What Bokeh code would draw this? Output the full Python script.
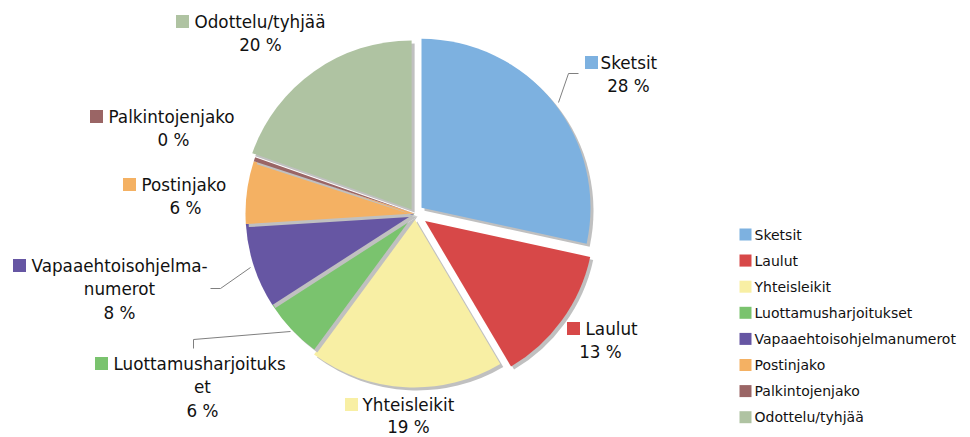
import math
from bokeh.plotting import figure
from bokeh.models import Range1d, ColumnDataSource
from bokeh.core.properties import value
from bokeh.embed import file_html
from bokeh.resources import INLINE

# ---------------- data ----------------
categories = ["Sketsit", "Laulut", "Yhteisleikit", "Luottamusharjoitukset",
              "Vapaaehtoisohjelmanumerot", "Postinjako", "Palkintojenjako",
              "Odottelu/tyhjää"]
shares = [28.4, 13.1, 18.6, 5.8, 8.1, 6.0, 0.4, 19.6]
label_lines = [["Sketsit"], ["Laulut"], ["Yhteisleikit"],
               ["Luottamusharjoituks", "et"], ["Vapaaehtoisohjelma-", "numerot"],
               ["Postinjako"], ["Palkintojenjako"], ["Odottelu/tyhjää"]]

# ---------------- style ----------------
colors = ["#7db1e0", "#d74848", "#f8efa4", "#7ac36e",
          "#6656a3", "#f4b163", "#9a6565", "#afc3a2"]
SHADOW = "#c0c0c0"
FONT = value("DejaVu Sans")
TXT = "#111111"

W, H = 970, 437
def X(px):
    return px
def Y(py):
    return H - py

CX, CY = 414, 213          # pie centre (screen px)
R = 169
explode = [9, 13, 5, 0, 0, 0, 0, 5]
SH = 3                      # shadow offset

# label layout: (square cx, first-line cy, text left, block centre x, line pitch)
label_pos = [(591, 62, 600, 628, 23.5), (573, 328, 585, 600, 23.5),
             (351, 404, 362, 408, 22.0), (101, 363, 113, 202, 23.5),
             (19, 265, 31, 119, 23.5), (129, 184, 141, 185, 23.5),
             (96, 116, 108, 173, 23.5), (182, 21, 194, 260, 23.5)]
leaders = [[(558, 102), (568, 73), (578, 73)],
           [(290, 331), (193, 339), (193, 348)],
           [(250, 267), (220, 288), (210, 288)]]

p = figure(width=W, height=H, output_backend="svg", toolbar_location=None,
           x_range=Range1d(0, W), y_range=Range1d(0, H), min_border=0)
p.axis.visible = False
p.grid.visible = False
p.outline_line_color = None
p.background_fill_color = "white"
p.border_fill_color = "white"

# wedge table (shadow then slice, per category)
total = sum(shares)
rows = dict(x=[], y=[], start=[], end=[], color=[])
cum = 0.0
for i, v in enumerate(shares):
    a0 = cum / total * 2 * math.pi
    cum += v
    a1 = cum / total * 2 * math.pi
    mid = (a0 + a1) / 2
    ox = X(CX) + explode[i] * math.sin(mid)
    oy = Y(CY) + explode[i] * math.cos(mid)
    for dx, dy, col in ((SH, -SH, SHADOW), (0, 0, colors[i])):
        rows["x"].append(ox + dx)
        rows["y"].append(oy + dy)
        rows["start"].append(math.pi / 2 - a1)
        rows["end"].append(math.pi / 2 - a0)
        rows["color"].append(col)
src = ColumnDataSource(rows)
p.wedge(x="x", y="y", radius=R, start_angle="start", end_angle="end",
        fill_color="color", line_color=None, source=src)

# leader lines
p.multi_line(xs=[[X(a) for a, b in L] for L in leaders],
             ys=[[Y(b) for a, b in L] for L in leaders],
             line_color="#7f7f7f", line_width=1)

# data labels
sq = dict(x=[], y=[], color=[])
t1 = dict(x=[], y=[], text=[])
tc = dict(x=[], y=[], text=[])
for i, cat in enumerate(categories):
    sx, ly, tx, bx, pitch = label_pos[i]
    sq["x"].append(X(sx)); sq["y"].append(Y(ly)); sq["color"].append(colors[i])
    lines = label_lines[i] + [f"{round(shares[i] / total * 100)} %"]
    t1["x"].append(X(tx)); t1["y"].append(Y(ly)); t1["text"].append(lines[0])
    for k, ln in enumerate(lines[1:], start=1):
        tc["x"].append(X(bx)); tc["y"].append(Y(ly + k * pitch)); tc["text"].append(ln)
p.rect(x="x", y="y", width=13, height=13, fill_color="color", line_color=None,
       source=ColumnDataSource(sq))
p.text(x="x", y="y", text="text", source=ColumnDataSource(t1), text_font=FONT,
       text_font_size="16.8px", text_align="left", text_baseline="middle", text_color=TXT)
p.text(x="x", y="y", text="text", source=ColumnDataSource(tc), text_font=FONT,
       text_font_size="16.8px", text_align="center", text_baseline="middle", text_color=TXT)

# legend
LEG_SQ_X, LEG_TX, LEG_Y0, LEG_PITCH = 745, 754, 234, 26.1
lsq = dict(x=[X(LEG_SQ_X)] * len(categories),
           y=[Y(LEG_Y0 + i * LEG_PITCH) for i in range(len(categories))],
           color=colors)
ltx = dict(x=[X(LEG_TX)] * len(categories),
           y=[Y(LEG_Y0 + i * LEG_PITCH) for i in range(len(categories))],
           text=categories)
p.rect(x="x", y="y", width=12, height=12, fill_color="color", line_color=None,
       source=ColumnDataSource(lsq))
p.text(x="x", y="y", text="text", source=ColumnDataSource(ltx), text_font=FONT,
       text_font_size="14px", text_align="left", text_baseline="middle", text_color=TXT)

open("out.html", "w").write(file_html(p, INLINE))
